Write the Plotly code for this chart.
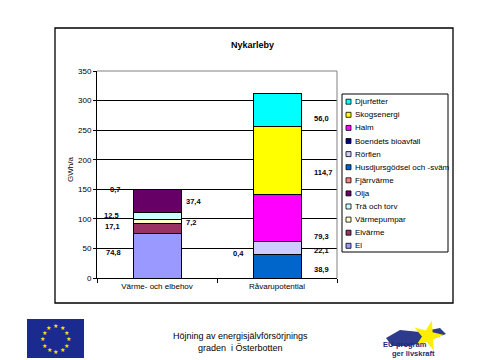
import math
import plotly.graph_objects as go

# ---------------- data ----------------
categories = ["Värme- och elbehov", "Råvarupotential"]
series_names = ["El", "Elvärme", "Värmepumpar", "Trä och torv", "Olja", "Fjärrvärme",
                "Husdjursgödsel och -sväm", "Rörflen", "Boendets bioavfall", "Halm",
                "Skogsenergi", "Djurfetter"]
values_varme = [74.8, 17.1, 7.2, 12.5, 37.4, 0.7, None, None, None, None, None, None]
values_ravaru = [None, None, None, None, None, None, 38.9, 22.1, 0.4, 79.3, 114.7, 56.0]
y_tick_values = [0, 50, 100, 150, 200, 250, 300, 350]
chart_title = "Nykarleby"
y_title = "GWh/a"
footer_lines = ["Höjning av energisjälvförsörjnings", "graden  i Österbotten"]
logo_lines = ["EU-program", "ger livskraft"]

# ---------------- styles ----------------
colors = ["#9999FF", "#993366", "#FFFFCC", "#CCFFFF", "#660066", "#FF8080",
          "#0066CC", "#CCCCFF", "#000080", "#FF00FF", "#FFFF00", "#00FFFF"]
# label offsets (pixels): dx = edge of label relative to bar centre, dy = down shift
label_style = {
    "El": (-34, -3), "Elvärme": (-35, -2), "Värmepumpar": (27, 1),
    "Trä och torv": (-36, 0), "Olja": (27, 1), "Fjärrvärme": (-35, 0),
    "Husdjursgödsel och -sväm": (35, 2.5), "Rörflen": (35, 2), "Boendets bioavfall": (-31, 12),
    "Halm": (35, 18), "Skogsenergi": (35, 12), "Djurfetter": (35, 8),
}
FONT = "Liberation Sans, Arial, sans-serif"
BODY = 8                      # page body margin of the html page
W, H = 480 - BODY, 360 - BODY
# plot area in page pixels
PL, PR, PT, PB = 97, 337, 71, 278


def px(x):
    return (x - PL) / (PR - PL)


def py(y):
    return (PB - y) / (PB - PT)


fig = go.Figure()
for name, v1, v2, c in zip(series_names, values_varme, values_ravaru, colors):
    fig.add_trace(go.Bar(
        x=categories, y=[v1, v2], name=name,
        marker=dict(color=c, line=dict(color="black", width=1)),
        showlegend=False, hoverinfo="skip"))

annotations = []
shapes = []

# data labels
for ci, vals in enumerate([values_varme, values_ravaru]):
    base = 0.0
    for name, v in zip(series_names, vals):
        if v is None:
            continue
        mid = base + v / 2
        base += v
        dx, dy = label_style[name]
        annotations.append(dict(
            x=categories[ci], y=mid, xref="x", yref="y",
            text="<b>" + f"{v:.1f}".replace(".", ",") + "</b>", showarrow=False,
            xanchor="right" if dx < 0 else "left", yanchor="middle",
            xshift=dx, yshift=-dy,
            font=dict(family=FONT, size=7.5, color="#000022")))

# title & axis title
annotations.append(dict(x=px(252), y=py(45), xref="paper", yref="paper", text=f"<b>{chart_title}</b>",
                        showarrow=False, xanchor="center", yanchor="middle",
                        font=dict(family=FONT, size=9, color="black")))
annotations.append(dict(x=px(70), y=py(170), xref="paper", yref="paper", text=y_title,
                        showarrow=False, textangle=-90, xanchor="center", yanchor="middle",
                        font=dict(family=FONT, size=8, color="black")))

# plot-area gray border (top, right)
shapes.append(dict(type="line", xref="paper", yref="paper", x0=0, x1=1, y0=1, y1=1,
                   line=dict(color="#808080", width=1), layer="above"))
shapes.append(dict(type="line", xref="paper", yref="paper", x0=1, x1=1, y0=0, y1=1,
                   line=dict(color="#808080", width=1), layer="above"))
# outer chart frame
shapes.append(dict(type="rect", xref="paper", yref="paper", x0=px(55), x1=px(453), y0=py(303), y1=py(28),
                   line=dict(color="black", width=1.3), layer="below"))

# custom legend (reversed order, as in the reference)
shapes.append(dict(type="rect", xref="paper", yref="paper", x0=px(342), x1=px(448), y0=py(252), y1=py(94),
                   line=dict(color="black", width=1), fillcolor="white", layer="above"))
for i, (name, c) in enumerate(reversed(list(zip(series_names, colors)))):
    yc = 101.7 + i * 13.1
    shapes.append(dict(type="rect", xref="paper", yref="paper", x0=px(346), x1=px(351),
                       y0=py(yc + 2.5), y1=py(yc - 2.5), fillcolor=c,
                       line=dict(color="black", width=0.8), layer="above"))
    annotations.append(dict(x=px(353), y=py(yc), xref="paper", yref="paper", text=name,
                            showarrow=False, xanchor="left", yanchor="middle",
                            font=dict(family=FONT, size=8, color="black")))

# footer text
for i, line in enumerate(footer_lines):
    annotations.append(dict(x=px(240), y=py(336 + i * 12), xref="paper", yref="paper", text=line,
                            showarrow=False, xanchor="center", yanchor="middle",
                            font=dict(family=FONT, size=9, color="black")))

# EU flag
shapes.append(dict(type="rect", xref="paper", yref="paper", x0=px(27), x1=px(84), y0=py(358), y1=py(319),
                   fillcolor="#1B2A8F", line=dict(color="#1B2A8F", width=0), layer="above"))
for k in range(12):
    a = k * math.pi / 6
    annotations.append(dict(x=px(55.5 + 13 * math.cos(a)), y=py(338.5 + 13 * math.sin(a)),
                            xref="paper", yref="paper", text="★", showarrow=False,
                            xanchor="center", yanchor="middle",
                            font=dict(family="DejaVu Sans", size=6, color="#FFE000")))

# EU-program logo: navy swoosh + yellow star
sw = [(386, 338), (400, 330), (420, 332), (440, 328), (446, 334), (430, 340), (410, 346), (392, 346)]
path = "M " + " L ".join(f"{px(x)},{py(y)}" for x, y in sw) + " Z"
shapes.append(dict(type="path", xref="paper", yref="paper", path=path,
                   fillcolor="#2E3A8C", line=dict(width=0), layer="above"))
cx, cy, Ro, Ri = 428, 336, 16, 6
pts = []
for k in range(10):
    r = Ro if k % 2 == 0 else Ri
    a = -math.pi / 2 + 0.25 + k * math.pi / 5
    pts.append((cx + r * math.cos(a), cy + r * math.sin(a)))
path = "M " + " L ".join(f"{px(x)},{py(y)}" for x, y in pts) + " Z"
shapes.append(dict(type="path", xref="paper", yref="paper", path=path,
                   fillcolor="#FFEE00", line=dict(width=0), layer="above"))
annotations.append(dict(x=px(405), y=py(344), xref="paper", yref="paper", text=f"<b>{logo_lines[0]}</b>",
                        showarrow=False, xanchor="center", yanchor="middle",
                        font=dict(family=FONT, size=7.5, color="#1F2A7A")))
annotations.append(dict(x=px(413), y=py(353), xref="paper", yref="paper", text=f"<b>{logo_lines[1]}</b>",
                        showarrow=False, xanchor="center", yanchor="middle",
                        font=dict(family=FONT, size=7.5, color="#1F2A7A")))

fig.update_layout(
    width=W, height=H,
    margin=dict(l=PL - BODY, r=W - (PR - BODY), t=PT - BODY, b=H - (PB - BODY), pad=0),
    barmode="stack", bargap=0.6,
    paper_bgcolor="white", plot_bgcolor="white",
    showlegend=False,
    font=dict(family=FONT, size=8, color="black"),
    xaxis=dict(type="category", showline=True, linecolor="black", linewidth=1,
               ticks="outside", tickson="boundaries", ticklen=4, tickcolor="black",
               showgrid=False, tickfont=dict(family=FONT, size=8, color="black")),
    yaxis=dict(range=[0, 350], tickvals=y_tick_values, showline=True, linecolor="black", linewidth=1,
               ticks="outside", ticklen=3, tickcolor="black", showgrid=True, gridcolor="black",
               gridwidth=1, zeroline=False, tickfont=dict(family=FONT, size=8, color="black")),
    annotations=annotations, shapes=shapes,
)

fig.write_html("out.html")
